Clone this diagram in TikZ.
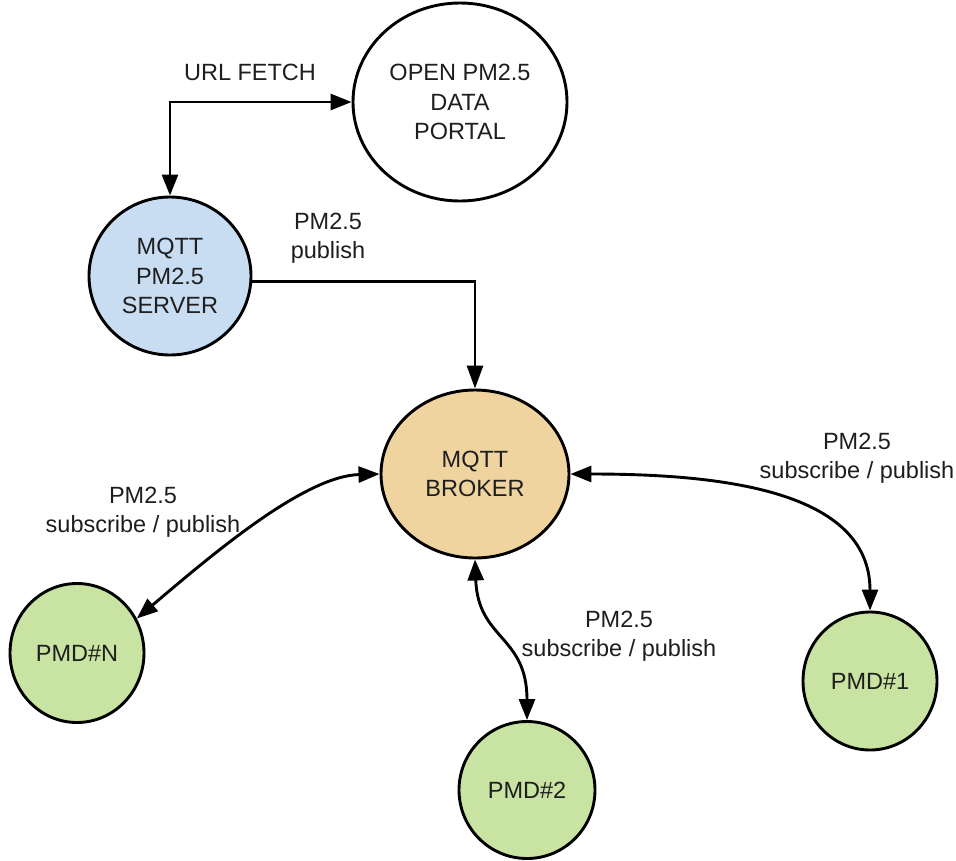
\documentclass[tikz,border=0pt]{standalone}
\usepackage{fontspec}
\setmainfont{Liberation Sans}
\usetikzlibrary{shapes.geometric,arrows.meta}
\definecolor{serverblue}{HTML}{C9DDF2}
\definecolor{brokerorange}{HTML}{EFD4A0}
\definecolor{pmdgreen}{HTML}{C8E3A2}
\definecolor{txt}{HTML}{1E1E1E}
\tikzset{
  bubble/.style={ellipse,draw=black,line width=2.9pt,inner sep=0pt,align=center,text=txt,
    font=\fontsize{23.5}{29.5}\selectfont},
  lbl/.style={align=center,text=txt,font=\fontsize{23.5}{29.5}\selectfont,inner sep=0pt},
  conn/.style={line width=2.9pt,draw=black,arrows={Triangle[length=21pt,width=16pt]-Triangle[length=21pt,width=16pt]}},
  conn1/.style={line width=2.9pt,draw=black,-{Triangle[length=23pt,width=16pt]}},
  connb/.style={line width=2.9pt,draw=black,{Triangle[length=21pt,width=16pt]}-{Triangle[length=21pt,width=16pt]}}
}
\begin{document}
\begin{tikzpicture}[x=1pt,y=-1pt]
\useasboundingbox[fill=white] (0,0) rectangle (956,860);
% nodes
\node[bubble,fill=white,minimum width=214pt,minimum height=198pt] (portal) at (460,102) {OPEN PM2.5\\DATA\\PORTAL};
\node[bubble,fill=serverblue,minimum width=162pt,minimum height=158pt] (server) at (170,276) {MQTT\\PM2.5\\SERVER};
\node[bubble,fill=brokerorange,minimum width=188pt,minimum height=168pt] (broker) at (475,474) {MQTT\\BROKER};
\node[bubble,fill=pmdgreen,minimum width=134pt,minimum height=139pt] (pmdN) at (77,653) {PMD\#N};
\node[bubble,fill=pmdgreen,minimum width=136pt,minimum height=137pt] (pmd2) at (527,790) {PMD\#2};
\node[bubble,fill=pmdgreen,minimum width=134pt,minimum height=138pt] (pmd1) at (870,681) {PMD\#1};
% labels
\node[lbl] (lurl) at (250,72) {URL FETCH};
\node[lbl] (lpub) at (328,238) {PM2.5\\publish};
\node[lbl] (lN) at (143,512) {PM2.5\\subscribe / publish};
\node[lbl] (l2) at (619,636) {PM2.5\\subscribe / publish};
\node[lbl] (l1) at (857,458) {PM2.5\\subscribe / publish};
% connectors
\draw[conn] (server.north) |- (portal.west);
\draw[conn1] (server.-4) -| (broker.north);
\draw[connb] (broker.west) .. controls (305,476) and (215,552) .. (pmdN.30);
\draw[connb] (broker.south) .. controls (478,640) and (527,635) .. (pmd2.north);
\draw[connb] (broker.east) .. controls (720,474) and (870,490) .. (pmd1.north);
\end{tikzpicture}
\end{document}
